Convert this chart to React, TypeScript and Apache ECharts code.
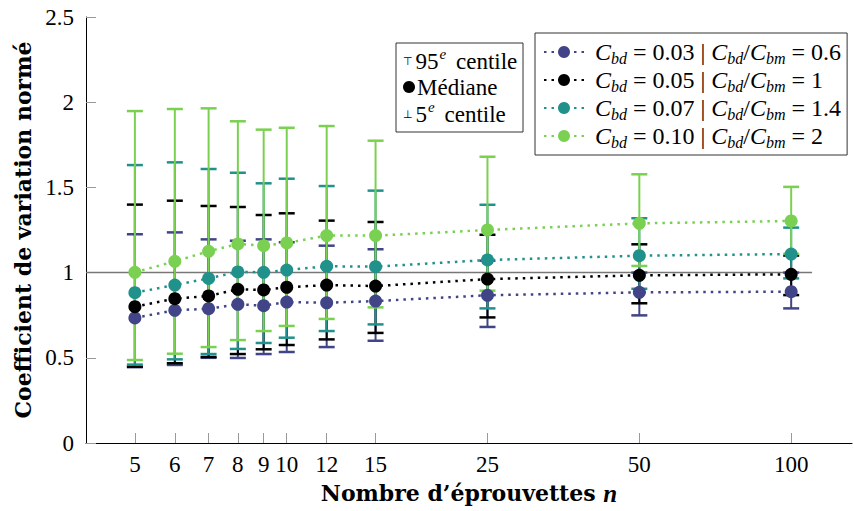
import React, { useEffect, useRef } from 'react';
import * as echarts from 'echarts';

// Number of specimens n (log axis)
const nValues = [5, 6, 7, 8, 9, 10, 12, 15, 25, 50, 100];
const xTickValues = [5, 6, 7, 8, 9, 10, 12, 15, 25, 50, 100];

// Legend labels
const cbdLabels = ['0.03', '0.05', '0.07', '0.10'];
const ratioLabels = ['0.6', '1', '1.4', '2'];
const seriesColors = ['#414487', '#000000', '#21918c', '#7ad151'];

// C_bd = 0.03
const median003 = [0.734, 0.779, 0.788, 0.814, 0.806, 0.827, 0.823, 0.833, 0.867, 0.884, 0.888];
const p95_003 = [1.225, 1.236, 1.195, 1.187, 1.195, 1.178, 1.158, 1.137, 1.07, 1.0, 1.0];
const p5_003 = [0.445, 0.458, 0.5, 0.499, 0.522, 0.534, 0.563, 0.6, 0.681, 0.749, 0.79];

// C_bd = 0.05
const median005 = [0.8, 0.847, 0.863, 0.902, 0.898, 0.914, 0.927, 0.921, 0.962, 0.984, 0.99];
const p95_005 = [1.399, 1.422, 1.391, 1.385, 1.338, 1.348, 1.305, 1.297, 1.222, 1.166, 1.1];
const p5_005 = [0.448, 0.468, 0.505, 0.522, 0.55, 0.575, 0.608, 0.646, 0.737, 0.82, 0.868];

// C_bd = 0.07
const median007 = [0.882, 0.927, 0.966, 1.004, 1.002, 1.015, 1.037, 1.035, 1.074, 1.099, 1.109];
const p95_007 = [1.631, 1.647, 1.608, 1.586, 1.524, 1.551, 1.508, 1.481, 1.398, 1.319, 1.264];
const p5_007 = [0.46, 0.491, 0.522, 0.552, 0.587, 0.618, 0.657, 0.696, 0.79, 0.905, 0.966];

// C_bd = 0.10
const median010 = [1.002, 1.066, 1.125, 1.168, 1.158, 1.174, 1.217, 1.217, 1.25, 1.289, 1.303];
const p95_010 = [1.948, 1.96, 1.964, 1.888, 1.839, 1.85, 1.86, 1.774, 1.68, 1.577, 1.503];
const p5_010 = [0.487, 0.524, 0.563, 0.604, 0.657, 0.687, 0.728, 0.796, 0.894, 1.039, 1.11];

// Reference line at 1
const refLineX = [4, 110];
const refLineY = 1;

const medians = [median003, median005, median007, median010];
const p95s = [p95_003, p95_005, p95_007, p95_010];
const p5s = [p5_003, p5_005, p5_007, p5_010];

const SERIF = 'Liberation Serif';
const TITLE_FONT = 'DejaVu Serif';

const seriesName = (i: number) => `C_bd = ${cbdLabels[i]} | C_bd/C_bm = ${ratioLabels[i]}`;

const richText = {
  n: { fontFamily: SERIF, fontSize: 24, color: '#000', lineHeight: 25 },
  i: { fontFamily: SERIF, fontSize: 24, fontStyle: 'italic', color: '#000', lineHeight: 25 },
  s: { fontFamily: SERIF, fontSize: 16, fontStyle: 'italic', color: '#000', lineHeight: 10, padding: [12, 0, 0, 0] },
};

const supRich = {
  sym: { fontFamily: 'DejaVu Sans', fontSize: 11, color: '#000', padding: [0, 3, 0, 0] },
  n: { fontFamily: SERIF, fontSize: 23, color: '#000' },
  sup: { fontFamily: SERIF, fontSize: 15, fontStyle: 'italic', color: '#000', lineHeight: 10, padding: [0, 4, 14, 1] },
};

export default function App() {
  const ref = useRef<HTMLDivElement>(null);
  useEffect(() => {
    if (!ref.current) return;
    const chart = echarts.init(ref.current, undefined, { renderer: 'svg' });

    const errSeries = seriesColors.map((color, i) => ({
      type: 'custom',
      name: 'err' + i,
      z: 2,
      silent: true,
      encode: { x: 0, y: [1, 2] },
      data: nValues.map((n, k) => [n, p5s[i][k], p95s[i][k]]),
      renderItem: (params: any, api: any) => {
        const x = api.value(0);
        const lo = api.value(1);
        const hi = api.value(2);
        const top = api.coord([x, hi]);
        const bot = api.coord([x, lo]);
        const hw = 8;
        return {
          type: 'group',
          children: [
            { type: 'line', shape: { x1: top[0], y1: top[1], x2: bot[0], y2: bot[1] }, style: { stroke: color, lineWidth: 2 } },
            { type: 'line', shape: { x1: top[0] - hw, y1: top[1], x2: top[0] + hw, y2: top[1] }, style: { stroke: color, lineWidth: 2.5 } },
            { type: 'line', shape: { x1: bot[0] - hw, y1: bot[1], x2: bot[0] + hw, y2: bot[1] }, style: { stroke: color, lineWidth: 2.5 } },
          ],
        };
      },
    }));

    const lineSeries = seriesColors.map((color, i) => ({
      type: 'line',
      name: seriesName(i),
      z: 3,
      data: nValues.map((n, k) => [n, medians[i][k]]),
      symbol: 'circle',
      symbolSize: 13,
      itemStyle: { color },
      lineStyle: { color, width: 2.5, type: [2.5, 5] },
      silent: true,
    }));

    const option: any = {
      animation: false,
      grid: { left: 86, right: 2, top: 17, bottom: 68 },
      xAxis: {
        type: 'log',
        min: 4,
        max: 132,
        name: 'Nombre d’éprouvettes {i|n}',
        nameLocation: 'middle',
        nameGap: 36,
        nameTextStyle: {
          fontFamily: TITLE_FONT,
          fontWeight: 'bold',
          fontSize: 22,
          color: '#000',
          rich: { i: { fontFamily: SERIF, fontStyle: 'italic', fontSize: 25, color: '#000' } },
        },
        axisLine: { show: true, lineStyle: { color: '#000', width: 1 } },
        axisTick: { show: true, inside: true, length: 10, lineStyle: { color: '#999' }, customValues: xTickValues },
        axisLabel: {
          customValues: xTickValues,
          fontFamily: SERIF,
          fontSize: 23,
          color: '#000',
          margin: 10,
          formatter: (v: number) => String(v),
        },
        splitLine: { show: false },
        minorTick: { show: false },
      },
      yAxis: {
        type: 'value',
        min: 0,
        max: 2.5,
        interval: 0.5,
        name: 'Coefficient de variation normé',
        nameLocation: 'middle',
        nameGap: 52,
        nameTextStyle: { fontFamily: TITLE_FONT, fontWeight: 'bold', fontSize: 22, color: '#000' },
        axisLine: { show: true, lineStyle: { color: '#000', width: 1 } },
        axisTick: { show: true, inside: true, length: 10, lineStyle: { color: '#999' } },
        axisLabel: { fontFamily: SERIF, fontSize: 23, color: '#000', margin: 12 },
        splitLine: { show: false },
      },
      legend: {
        data: seriesColors.map((_, i) => seriesName(i)),
        orient: 'vertical',
        left: 535,
        top: 33,
        padding: [5, 6, 5, 8],
        itemGap: 0,
        itemWidth: 40,
        itemHeight: 15,
        selectedMode: false,
        borderColor: '#333',
        borderWidth: 1,
        backgroundColor: '#fff',
        formatter: (name: string) => {
          const i = seriesColors.findIndex((_, k) => seriesName(k) === name);
          return `{i|C}{s|bd}{n| = ${cbdLabels[i]} | }{i|C}{s|bd}{n|/}{i|C}{s|bm}{n| = ${ratioLabels[i]}}`;
        },
        textStyle: { fontFamily: SERIF, fontSize: 24, lineHeight: 25, padding: [0, 0, 0, 6], rich: richText },
      },
      graphic: [
        {
          type: 'rect',
          shape: { x: 396, y: 43, width: 127, height: 89 },
          style: { fill: '#fff', stroke: '#333', lineWidth: 1 },
          z: 10,
        },
        {
          type: 'text',
          x: 403,
          y: 61,
          z: 11,
          style: { text: '{sym|⊤}{n|95}{sup|e}{n| centile}', verticalAlign: 'middle', rich: supRich },
        },
        {
          type: 'circle',
          shape: { cx: 409, cy: 87, r: 6 },
          style: { fill: '#000' },
          z: 11,
        },
        {
          type: 'text',
          x: 417,
          y: 87,
          z: 11,
          style: { text: 'Médiane', fontFamily: SERIF, fontSize: 23, fill: '#000', verticalAlign: 'middle' },
        },
        {
          type: 'text',
          x: 403,
          y: 114,
          z: 11,
          style: { text: '{sym|⊥}{n|5}{sup|e}{n| centile}', verticalAlign: 'middle', rich: supRich },
        },
      ],
      series: [
        {
          type: 'line',
          name: 'ref',
          z: 1,
          silent: true,
          symbol: 'none',
          data: refLineX.map((x) => [x, refLineY]),
          lineStyle: { color: '#777', width: 1.5 },
        },
        ...errSeries,
        ...lineSeries,
      ],
    };
    chart.setOption(option);
    return () => chart.dispose();
  }, []);
  return <div ref={ref} style={{ position: 'absolute', left: 0, top: 0, width: 854, height: 511 }} />;
}
